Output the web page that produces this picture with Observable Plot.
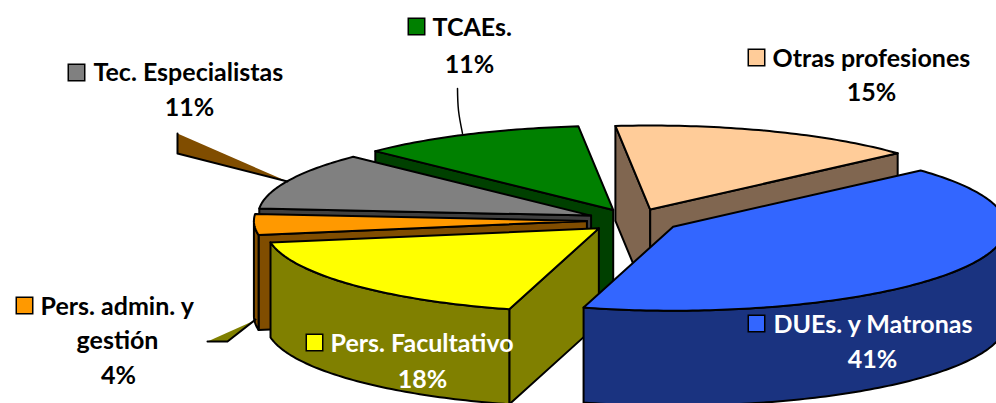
<!DOCTYPE html>
<html><head><meta charset="utf-8">
<script src="https://cdn.jsdelivr.net/npm/d3@7"></script>
<script src="https://cdn.jsdelivr.net/npm/@observablehq/plot@0.6"></script>
<style>html,body{margin:0;padding:0;background:#fff}svg{display:block}</style>
</head><body><div id="chart"></div>
<script>
// ---- data ----
const categories = ["Otras profesiones", "DUEs. y Matronas", "Pers. Facultativo", "Pers. admin. y gestión", "Tec. Especialistas", "TCAEs."];
const values = [15, 41, 18, 4, 11, 11];
const percentLabels = ["15%", "41%", "18%", "4%", "11%", "11%"];
const topColors = ["#FFCC99", "#3366FF", "#FFFF00", "#FF9900", "#808080", "#008000"];
const sideColors = ["#806650", "#1A3380", "#808000", "#804D00", "#404040", "#004000"];
const labelColors = ["#000", "#fff", "#fff", "#000", "#000", "#000"];
const labelWrap = {"Pers. admin. y gestión": ["Pers. admin. y", "gestión"]};

// ---- layout (pixel space) ----
const W = 996, H = 403;
const cx = 633, cy = 220, rx = 333, ry = 84, depth = 95, explode = 0.14, startAngle = -6;
const labelLayout = [
  {key: [756, 57], first: [772, 66], rest: [[871, 100]]},
  {key: [756, 323], first: [773, 332], rest: [[872, 367]]},
  {key: [314, 342], first: [330, 351], rest: [[422, 387]]},
  {key: [24, 305], first: [40, 314], rest: [[117, 348], [118, 383]]},
  {key: [76, 72], first: [93, 80], rest: [[189, 115]]},
  {key: [416, 26], first: [432, 35], rest: [[469, 72]]}
];
const leaderCurve = [[457, 88], [458, 110], [462, 133]];
const leaderWedges = [
  {fill: "#804D00", poly: [[177, 133], [287, 181], [177, 153]], edge: [[177, 133], [177, 153], [287, 181]]},
  {fill: "#808000", poly: [[207, 341], [254, 320], [227, 341]], edge: [[207, 341], [227, 341], [255, 319]]}
];

// ---- geometry ----
const rad = d => d * Math.PI / 180;
const total = d3.sum(values);
let acc = startAngle;
const slices = values.map((v, i) => {
  const a0 = acc, a1 = acc + v / total * 360; acc = a1;
  const m = (a0 + a1) / 2;
  return {i, a0, a1, m,
    px: cx + explode * rx * Math.sin(rad(m)),
    py: cy - explode * ry * Math.cos(rad(m))};
});
const rim = (s, t, dz = 0) => [s.px + rx * Math.sin(rad(t)), s.py - ry * Math.cos(rad(t)) + dz];
const arc = (s, t0, t1, dz = 0) => {
  const n = Math.max(2, Math.ceil(Math.abs(t1 - t0)));
  return d3.range(n + 1).map(k => rim(s, t0 + (t1 - t0) * k / n, dz));
};
slices.forEach(s => {
  s.maxY = Math.max(s.py, ...arc(s, s.a0, s.a1).map(p => p[1]));
});
const order = slices.slice().sort((a, b) => a.maxY - b.maxY);

const polys = [];
order.forEach(s => {
  const P = [s.px, s.py], Pb = [s.px, s.py + depth];
  if (Math.sin(rad(s.a0)) < 0) {
    const r = rim(s, s.a0), rb = rim(s, s.a0, depth);
    polys.push({fill: sideColors[s.i], pts: [P, r, rb, Pb]});
  }
  if (Math.sin(rad(s.a1)) > 0) {
    const r = rim(s, s.a1), rb = rim(s, s.a1, depth);
    polys.push({fill: sideColors[s.i], pts: [P, r, rb, Pb]});
  }
  for (const k of [-1, 0, 1]) {
    const lo = Math.max(s.a0, 90 + 360 * k), hi = Math.min(s.a1, 270 + 360 * k);
    if (hi > lo) polys.push({fill: sideColors[s.i], pts: [...arc(s, lo, hi), ...arc(s, hi, lo, depth)]});
  }
  polys.push({fill: topColors[s.i], pts: [P, ...arc(s, s.a0, s.a1)]});
});
const polyRows = polys.flatMap((p, id) => [...p.pts, p.pts[0]].map(([x, y]) => ({id, x, y, fill: p.fill})));

// ---- labels ----
const keyRows = labelLayout.map((L, i) => ({x: L.key[0], y: L.key[1], fill: topColors[i]}));
const startText = labelLayout.map((L, i) => ({x: L.first[0], y: L.first[1], text: (labelWrap[categories[i]] || [categories[i]])[0], fill: labelColors[i]}));
const midText = labelLayout.flatMap((L, i) => {
  const lines = [...(labelWrap[categories[i]] || [categories[i]]).slice(1), percentLabels[i]];
  return L.rest.map((p, j) => ({x: p[0], y: p[1], text: lines[j], fill: labelColors[i]}));
});
const wedgeRows = leaderWedges.flatMap((w, id) => [...w.poly, w.poly[0]].map(([x, y]) => ({id, x, y, fill: w.fill})));
const edgeRows = leaderWedges.flatMap((w, id) => w.edge.map(([x, y]) => ({id, x, y})));
const curveRows = leaderCurve.map(([x, y]) => ({x, y}));

const font = {fontFamily: "Lato, 'Open Sans', sans-serif", fontSize: 25, fontWeight: "bold", lineAnchor: "bottom"};

const chart = Plot.plot({
  width: W, height: H, margin: 0,
  x: {domain: [0, W], range: [0, W], axis: null},
  y: {domain: [0, H], range: [0, H], axis: null},
  color: {type: "identity"},
  style: {background: "#fff"},
  marks: [
    Plot.line(polyRows, {x: "x", y: "y", z: "id", fill: "fill", stroke: "#000", strokeWidth: 2, strokeLinejoin: "round"}),
    Plot.line(curveRows, {x: "x", y: "y", curve: "natural", stroke: "#000", strokeWidth: 1.5}),
    Plot.line(wedgeRows, {x: "x", y: "y", z: "id", fill: "fill", stroke: "none"}),
    Plot.line(edgeRows, {x: "x", y: "y", z: "id", stroke: "#000", strokeWidth: 2}),
    Plot.dot(keyRows, {x: "x", y: "y", symbol: "square", r: 9.3, fill: "fill", stroke: "#000", strokeWidth: 1.5}),
    Plot.text(startText, {x: "x", y: "y", text: "text", fill: "fill", textAnchor: "start", ...font}),
    Plot.text(midText, {x: "x", y: "y", text: "text", fill: "fill", textAnchor: "middle", ...font})
  ]
});
document.getElementById("chart").append(chart);
</script>
</body></html>
